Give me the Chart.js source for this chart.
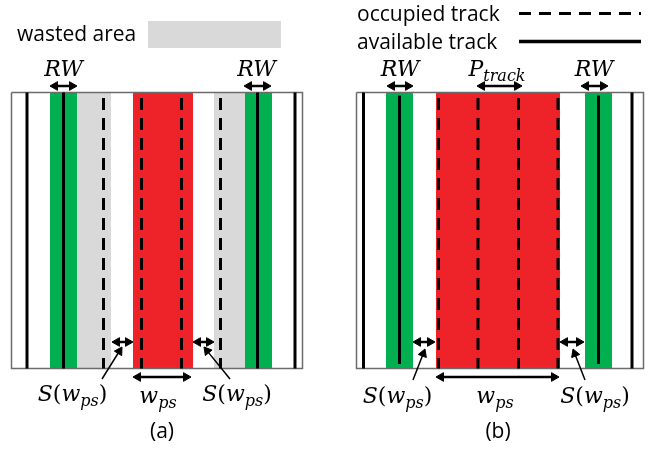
<!DOCTYPE html>
<html>
<head>
<meta charset="utf-8">
<script src="https://cdn.jsdelivr.net/npm/chart.js@4.4.0/dist/chart.umd.min.js"></script>
<style>
  html, body { margin: 0; padding: 0; background: #fff; }
  canvas { display: block; }
</style>
</head>
<body>
<canvas id="trackChart" width="654" height="454"></canvas>
<script>
// panel frames (x range) and common y range, in page pixels
const panelX = [[11.5, 302.5], [356.5, 643.5]];
const panelY = [92.5, 368.5];

// coloured areas [x0, x1]
const greenBands = [[50, 77], [245, 272], [386, 413], [585, 612]];
const grayBands = [[77, 111], [214, 245]];
const redBands = [[133, 193], [436, 560]];

// track positions
const availableTracks = [27, 63.5, 257.5, 295, 363.5, 632];
const availableTracksShort = [399.5, 598.5];
const occupiedTracks = [103.5, 141.5, 181.5, 220.5, 438.5, 478, 518.5, 558];

// double arrows [x0, x1, y]
const dimArrows = [
  [50, 77, 86], [244, 271, 86], [387, 413, 86], [477, 522, 86], [581, 608, 86],
  [112, 133, 342], [193, 214, 342], [133, 191, 377],
  [413, 435, 342], [560, 584, 342], [436, 559, 377]
];
// pointer arrows [tail, head]
const pointers = [
  [[102, 379], [122, 347]], [[230, 379], [204, 347]],
  [[413, 380], [425, 349]], [[585, 380], [573, 349]]
];

// legend
const wastedSwatch = [148, 281, 21, 48];
const occupiedKey = [519, 641, 13.5];
const availableKey = [519, 641, 41.5];

// texts
const legendTexts = [['wasted area', 17, 40.5], ['occupied track', 357, 21], ['available track', 357, 49]];
const captions = [['(a)', 162, 438], ['(b)', 498, 438]];
const mathTexts = [
  ['RW', 63.5, 75.5], ['RW', 256.5, 75.5], ['RW', 400, 75.5], ['RW', 594, 75.5],
  ['P_{track}', 497, 75.5],
  ['S(w_{ps})', 72.5, 401], ['w_{ps}', 158, 402.5], ['S(w_{ps})', 237, 401],
  ['S(w_{ps})', 397.5, 403], ['w_{ps}', 495, 402.5], ['S(w_{ps})', 595, 403]
];

const datasets = [];

function band(x0, x1, y0, y1, color) {
  datasets.push({
    data: [{ x: x0, y: y0 }, { x: x1, y: y0 }],
    fill: { value: y1 }, backgroundColor: color,
    borderWidth: 0, borderColor: 'transparent', pointRadius: 0, order: 6
  });
}

function segment(x0, y0, x1, y1, width, dash, order) {
  datasets.push({
    data: [{ x: x0, y: y0 }, { x: x1, y: y1 }],
    borderColor: '#000', borderWidth: width, borderDash: dash,
    pointRadius: 0, fill: false, order: order
  });
}

function arrow(tail, head, width, both) {
  const dx = head[0] - tail[0], dy = head[1] - tail[1];
  const len = Math.hypot(dx, dy), ux = dx / len, uy = dy / len;
  const r = 5;
  const rot = Math.atan2(dx, -dy) * 180 / Math.PI;
  const a = both ? [tail[0] + ux * r, tail[1] + uy * r] : tail;
  datasets.push({
    data: [{ x: a[0], y: a[1] }, { x: head[0] - ux * r, y: head[1] - uy * r }],
    borderColor: '#000', borderWidth: width, fill: false,
    pointStyle: 'triangle', pointRadius: [both ? r : 0, r], pointRotation: [rot + 180, rot],
    pointBackgroundColor: '#000', pointBorderColor: '#000', pointBorderWidth: 1, order: 1
  });
}

greenBands.forEach(b => band(b[0], b[1], panelY[0], panelY[1], '#00b050'));
grayBands.forEach(b => band(b[0], b[1], panelY[0], panelY[1], '#d9d9d9'));
redBands.forEach(b => band(b[0], b[1], panelY[0], panelY[1], '#ee2229'));
band(wastedSwatch[0], wastedSwatch[1], wastedSwatch[2], wastedSwatch[3], '#d9d9d9');

panelX.forEach(p => {
  datasets.push({
    data: [
      { x: p[0], y: panelY[0] }, { x: p[1], y: panelY[0] },
      { x: p[1], y: panelY[1] }, { x: p[0], y: panelY[1] }, { x: p[0], y: panelY[0] }
    ],
    borderColor: '#6b6b6b', borderWidth: 1.5, borderJoinStyle: 'miter',
    pointRadius: 0, fill: false, order: 4
  });
});

availableTracks.forEach(x => segment(x, panelY[0], x, panelY[1], 3, [], 3));
availableTracksShort.forEach(x => segment(x, panelY[0] + 3, x, panelY[1] - 4.5, 3, [], 3));
occupiedTracks.forEach(x => segment(x, panelY[0] + 5.5, x, panelY[1], 3, [12, 8], 3));
segment(occupiedKey[0], occupiedKey[2], occupiedKey[1], occupiedKey[2], 3, [12, 8], 3);
segment(availableKey[0], availableKey[2], availableKey[1], availableKey[2], 3.5, [], 3);

dimArrows.forEach(a => arrow([a[0], a[2]], [a[1], a[2]], 2.5, true));
pointers.forEach(p => arrow(p[0], p[1], 1.5, false));

const MATH = 'italic 22px "DejaVu Serif"';
const MATH_UP = '22px "DejaVu Serif"';
const MATH_SUB = 'italic 16px "DejaVu Serif"';

function mathRuns(str) {
  const runs = [];
  const re = /_\{([^}]*)\}|([()])|([^_()]+)/g;
  let m;
  while ((m = re.exec(str))) {
    if (m[1] !== undefined) runs.push({ t: m[1], font: MATH_SUB, dy: 5 });
    else if (m[2] !== undefined) runs.push({ t: m[2], font: MATH_UP, dy: 0 });
    else runs.push({ t: m[3], font: MATH, dy: 0 });
  }
  return runs;
}

const labelPlugin = {
  id: 'labelPlugin',
  afterDatasetsDraw(chart) {
    const { ctx, scales: { x, y } } = chart;
    ctx.save();
    ctx.fillStyle = '#000';
    ctx.textBaseline = 'alphabetic';
    ctx.font = '21px "Open Sans"';
    ctx.textAlign = 'left';
    legendTexts.forEach(([t, lx, ly]) => ctx.fillText(t, x.getPixelForValue(lx), y.getPixelForValue(ly)));
    ctx.textAlign = 'center';
    captions.forEach(([t, lx, ly]) => ctx.fillText(t, x.getPixelForValue(lx), y.getPixelForValue(ly)));
    ctx.textAlign = 'left';
    mathTexts.forEach(([str, cx, by]) => {
      const runs = mathRuns(str);
      let w = 0;
      runs.forEach(r => { ctx.font = r.font; r.w = ctx.measureText(r.t).width; w += r.w; });
      let px = x.getPixelForValue(cx) - w / 2;
      const py = y.getPixelForValue(by);
      runs.forEach(r => { ctx.font = r.font; ctx.fillText(r.t, px, py + r.dy); px += r.w; });
    });
    ctx.restore();
  }
};

new Chart(document.getElementById('trackChart'), {
  type: 'line',
  data: { datasets },
  options: {
    responsive: false,
    animation: false,
    events: [],
    layout: { padding: 0, autoPadding: false },
    scales: {
      x: { type: 'linear', min: 0, max: 654, display: false },
      y: { type: 'linear', min: 0, max: 454, reverse: true, display: false }
    },
    plugins: { legend: { display: false }, tooltip: { enabled: false } }
  },
  plugins: [labelPlugin]
});
</script>
</body>
</html>
